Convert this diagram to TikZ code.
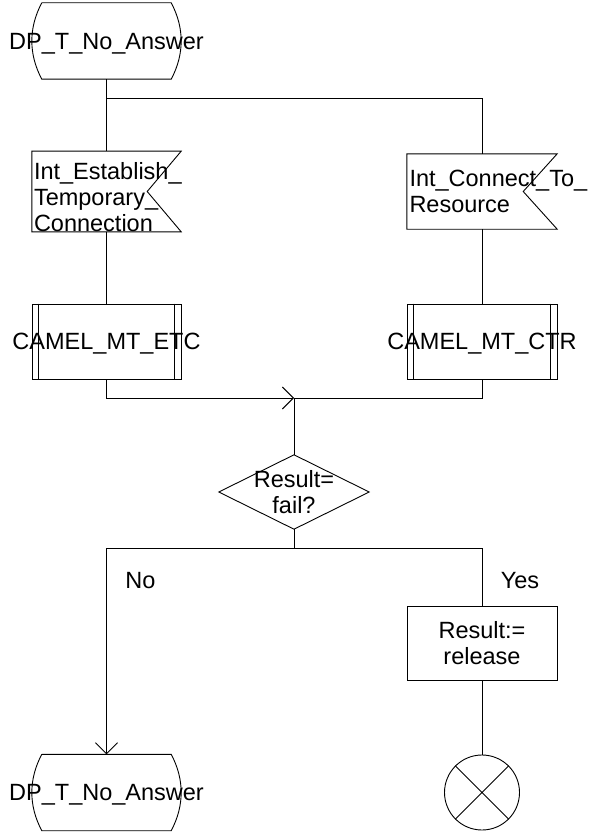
\documentclass[tikz,border=0pt]{standalone}
\usepackage{fontspec}
\setmainfont{Liberation Sans}
\usetikzlibrary{arrows.meta}
\begin{document}
\begin{tikzpicture}[x=1pt,y=-1pt,
  every node/.style={font=\fontsize{23.5pt}{26pt}\selectfont, inner sep=0pt},
  lw/.style={line width=0.9pt},
  flow/.style={lw},
  arr/.style={lw,-{Straight Barb[length=11pt,width=22pt]}},
  dpbox/.style={rectangle, minimum width=129pt, minimum height=76pt, text depth=0pt,
    append after command={\pgfextra{\draw[lw]
      (\tikzlastnode.north west) -- (\tikzlastnode.north east)
      .. controls +(13.3pt,-25pt) and +(13.3pt,25pt) .. (\tikzlastnode.south east)
      -- (\tikzlastnode.south west)
      .. controls +(-13.3pt,25pt) and +(-13.3pt,-25pt) .. (\tikzlastnode.north west);}}},
  sigbox/.style={rectangle, minimum height=75pt, text width=145pt, align=left,
    append after command={\pgfextra{\draw[lw]
      (\tikzlastnode.north west) -- (\tikzlastnode.north east)
      -- ([xshift=-34pt]\tikzlastnode.east) -- (\tikzlastnode.south east)
      -- (\tikzlastnode.south west) -- cycle;}}},
  procbox/.style={rectangle, minimum height=75pt, text depth=0pt, draw, lw,
    append after command={\pgfextra{\draw[lw]
      ([xshift=7pt]\tikzlastnode.north west) -- ([xshift=7pt]\tikzlastnode.south west)
      ([xshift=-7pt]\tikzlastnode.north east) -- ([xshift=-7pt]\tikzlastnode.south east);}}},
  decbox/.style={rectangle, minimum width=150pt, minimum height=74pt, align=center,
    append after command={\pgfextra{\draw[lw]
      (\tikzlastnode.north) -- (\tikzlastnode.east) -- (\tikzlastnode.south)
      -- (\tikzlastnode.west) -- cycle;}}},
  taskbox/.style={rectangle, draw, lw, minimum width=150pt, minimum height=74pt, align=center},
  stopsym/.style={circle, draw, lw, minimum size=75pt,
    append after command={\pgfextra{\draw[lw]
      (\tikzlastnode.north west) -- (\tikzlastnode.south east)
      (\tikzlastnode.north east) -- (\tikzlastnode.south west);}}},
  lbl/.style={anchor=north}
]
\useasboundingbox (0,0) rectangle (591,832);

\node[dpbox] (dp1) at (106.5,41) {\makebox[0pt]{DP\_T\_No\_Answer}};
\node[sigbox, minimum width=149pt] (sig1) at (106.5,191.5)
  {\rule{0pt}{28pt}\mbox{Int\_Establish\_}\\\mbox{Temporary\_}\\\mbox{Connection}};
\node[sigbox, minimum width=150pt] (sig2) at (482,191.5)
  {\mbox{Int\_Connect\_To\_}\\\mbox{Resource}};
\node[procbox, minimum width=149pt] (proc1) at (106.5,341.5) {\makebox[0pt]{CAMEL\_MT\_ETC}};
\node[procbox, minimum width=150pt] (proc2) at (482,341.5) {\makebox[0pt]{CAMEL\_MT\_CTR}};
\coordinate (j1) at (106.5,98);
\coordinate (m1) at (294,398);
\node[decbox] (dec) at (294,492) {Result=\\fail?};
\coordinate (j2) at (294,548);
\node[lbl] (no) at (140.5,572) {No};
\node[lbl] (yes) at (520,572) {Yes};
\node[taskbox] (task) at (482,643) {Result:=\\release};
\node[stopsym] (stop) at (482,792.5) {};
\node[dpbox] (dp2) at (106.5,792.5) {\makebox[0pt]{DP\_T\_No\_Answer}};

\draw[flow] (dp1.south) -- (sig1.north);
\draw[flow] (j1) -| (sig2.north);
\draw[flow] (sig1.south) -- (proc1.north);
\draw[flow] (sig2.south) -- (proc2.north);
\draw[arr] (proc1.south) |- (m1);
\draw[flow] (proc2.south) |- (m1);
\draw[flow] (m1) -- (dec.north);
\draw[flow] (dec.south) -- (j2);
\draw[arr] (j2) -| (dp2.north);
\draw[flow] (j2) -| (task.north);
\draw[flow] (task.south) -- (stop.north);
\end{tikzpicture}
\end{document}
